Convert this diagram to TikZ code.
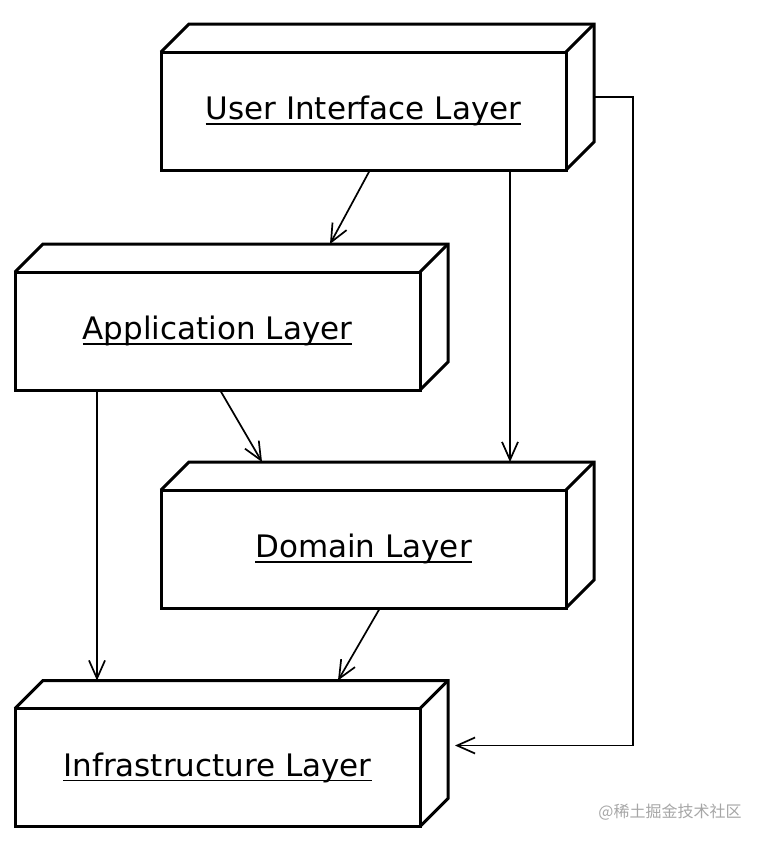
\documentclass[tikz,border=0pt]{standalone}
\usepackage{fontspec}
\setmainfont{DejaVu Sans}
\newfontfamily\cjk{Noto Sans CJK SC}
\usetikzlibrary{arrows.meta,calc}
\newcommand{\underlined}[1]{\setbox0\hbox{#1}\rlap{\rule[-5pt]{\wd0}{1.5pt}}\box0}

\begin{document}
\begin{tikzpicture}[x=1pt,y=-1pt]
        \tikzstyle{layer} = [rectangle, draw, line width=3pt, minimum width=405pt, minimum height=118pt, inner sep=0pt, outer sep=0pt, font=\fontsize{31}{37}\selectfont]
        \tikzstyle{face} = [line width=3pt, line join=miter]
        \tikzstyle{dep} = [line width=1.7pt, -{Straight Barb[length=18pt,width=16pt]}]

        \useasboundingbox (0,0) rectangle (764,844);

        \node[layer] (ui) at (363.5,111) {\underlined{User Interface Layer}};
        \node[layer] (app) at (217.5,331) {\underlined{Application Layer}};
        \node[layer] (dom) at (363.5,549) {\underlined{Domain Layer}};
        \node[layer] (infra) at (217.5,767.5) {\underlined{Infrastructure Layer}};

        \foreach \b in {ui,app,dom,infra} {
            \draw[face] (\b.north west) -- ++(28,-28) -- ++(405,0) -- ++(0,118) -- (\b.south east);
            \draw[face] (\b.north east) -- ++(28,-28);
            \coordinate (\b-back) at ($(\b.north west)+(28,-28)$);
        }

        \coordinate (ui-side) at ($(ui.east)+(28,-14)$);
        \coordinate (infra-side) at ($(infra.east)+(35,-22)$);

        \draw[dep] ([xshift=6.5pt]ui.south) -- ([xshift=287pt]app-back);
        \draw[dep] ([xshift=146.5pt]ui.south) -- ([xshift=321pt]dom-back);
        \draw[dep] (ui-side) -- ++(39,0) |- (infra-side);
        \draw[dep] ([xshift=2.5pt]app.south) -- ([xshift=73pt]dom-back);
        \draw[dep] ([xshift=-120.5pt]app.south) -- ([xshift=54pt]infra-back);
        \draw[dep] ([xshift=16.5pt]dom.south) -- ([xshift=295pt]infra-back);

        \node[text=gray!70, font=\cjk\fontsize{16}{19}\selectfont] (mark) at (670,812) {@稀土掘金技术社区};
\end{tikzpicture}
\end{document}
